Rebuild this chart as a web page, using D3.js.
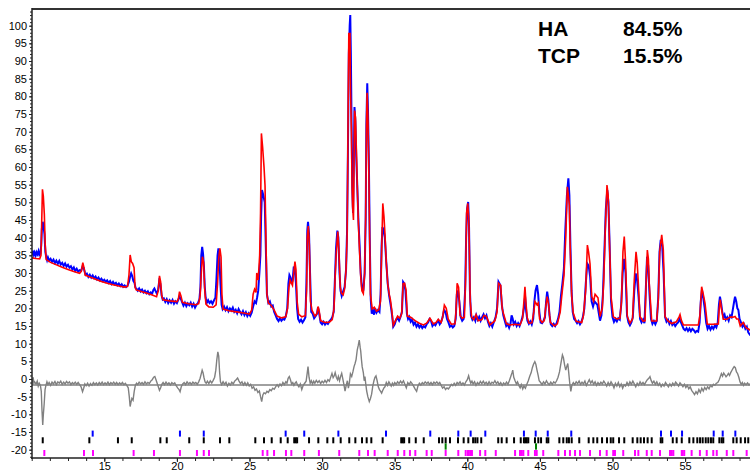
<!DOCTYPE html>
<html>
<head>
    <script src="https://cdn.jsdelivr.net/npm/d3@7/dist/d3.min.js"></script>
    <style>
        body { margin: 0; background: #fff; }
        text { font-family: "Liberation Sans", Arial, sans-serif; }
    </style>
</head>
<body>
    <svg width="750" height="472" id="mainsvg"></svg>
    <script>
        // observed pattern [2theta, intensity]
        const obs = [[10.0,35.6],[10.05,35.0],[10.1,36.3],[10.15,35.2],[10.2,35.8],[10.27,34.9],[10.33,35.9],[10.4,35.3],[10.47,36.2],[10.53,35.1],[10.6,35.5],[10.66,38],[10.7,42.5],[10.76,44.5],[10.82,43],[10.88,41],[10.94,36],[11.0,34.5],[11.06,33.6],[11.12,34.4],[11.2,33.5],[11.3,34.0],[11.4,33.2],[11.5,33.8],[11.6,32.8],[11.7,33.5],[11.8,32.6],[11.9,33.4],[12.0,32.4],[12.1,32.9],[12.2,32.0],[12.3,32.7],[12.4,31.8],[12.5,32.3],[12.6,31.5],[12.7,31.9],[12.8,31.0],[12.9,31.6],[13.0,30.6],[13.1,31.2],[13.2,30.4],[13.3,30.8],[13.4,30.6],[13.5,31.8],[13.58,31.5],[13.66,30.2],[13.72,29.5],[13.8,29.8],[13.9,28.9],[14.0,29.5],[14.1,28.7],[14.2,29.3],[14.3,28.5],[14.4,29.0],[14.5,28.2],[14.6,28.7],[14.7,27.9],[14.8,28.4],[14.9,27.7],[15.0,28.1],[15.1,27.5],[15.2,27.9],[15.3,27.2],[15.4,27.7],[15.5,26.9],[15.6,27.5],[15.7,26.8],[15.8,27.2],[15.9,26.5],[16.0,27.0],[16.1,26.3],[16.2,26.8],[16.3,26.1],[16.4,26.5],[16.5,26.0],[16.6,26.4],[16.7,27.5],[16.78,29],[16.85,29.9],[16.92,29.2],[17.0,27.8],[17.08,27.2],[17.15,25.8],[17.22,25.5],[17.3,25.0],[17.4,25.6],[17.5,24.8],[17.6,25.3],[17.7,24.5],[17.8,25.0],[17.9,24.3],[18.0,24.8],[18.1,24.0],[18.2,24.5],[18.3,24.2],[18.38,25.2],[18.45,25.6],[18.52,25.0],[18.6,24.3],[18.7,25],[18.78,27.7],[18.86,27],[18.95,23.6],[19.02,22.5],[19.1,22.8],[19.2,21.8],[19.3,22.6],[19.4,21.5],[19.5,22.3],[19.6,21.6],[19.7,22.4],[19.8,21.3],[19.9,22.0],[20.0,21.5],[20.1,22.5],[20.18,23.3],[20.26,22.8],[20.35,21.8],[20.45,20.8],[20.55,21.6],[20.65,20.6],[20.75,21.4],[20.85,20.9],[20.95,21.6],[21.05,20.5],[21.15,21.3],[21.25,20.2],[21.35,21.0],[21.45,21.5],[21.55,22.5],[21.62,26],[21.68,35],[21.74,37.4],[21.8,35.5],[21.86,32],[21.92,26],[21.98,23],[22.05,21.5],[22.15,22.3],[22.25,21.5],[22.35,22.0],[22.45,21.3],[22.55,22.2],[22.65,23],[22.72,28],[22.8,35],[22.86,37],[22.93,34],[23.0,27],[23.08,21],[23.15,19.8],[23.25,20.5],[23.35,19.5],[23.45,20.3],[23.55,19.2],[23.65,20.0],[23.75,19.4],[23.85,20.2],[23.95,19.0],[24.05,19.6],[24.15,18.6],[24.25,19.8],[24.35,19.0],[24.45,18.3],[24.55,19.2],[24.65,18.1],[24.75,18.9],[24.85,17.8],[24.95,18.6],[25.05,17.9],[25.15,18.8],[25.25,20.5],[25.35,22],[25.45,21.5],[25.52,23],[25.6,25],[25.68,30],[25.75,35],[25.8,46],[25.86,53.5],[25.95,52],[26.05,50],[26.12,38],[26.2,24],[26.3,21.5],[26.4,22],[26.5,20.5],[26.6,20.8],[26.7,19.0],[26.8,18.0],[26.9,17.0],[27.0,16.4],[27.1,17.2],[27.2,16.5],[27.3,17.0],[27.4,16.8],[27.5,17.8],[27.6,20],[27.68,27],[27.75,29.4],[27.82,28.8],[27.9,27],[27.97,28],[28.05,31.8],[28.12,31],[28.2,27],[28.28,20],[28.35,17],[28.45,16.2],[28.55,16.8],[28.65,16.0],[28.75,16.6],[28.85,17.5],[28.92,27],[28.98,42],[29.03,44.5],[29.1,41],[29.17,30],[29.25,19],[29.35,18.5],[29.45,17.2],[29.55,17.8],[29.65,18.5],[29.72,20.3],[29.8,18.5],[29.9,16.0],[30.0,15.5],[30.1,16.2],[30.2,15.4],[30.3,16.0],[30.4,15.6],[30.5,16.3],[30.6,16.8],[30.7,17.5],[30.8,19],[30.88,28],[30.96,37],[31.05,42],[31.12,40],[31.2,30],[31.27,25],[31.35,23.5],[31.45,24.8],[31.55,26],[31.65,31],[31.72,42],[31.78,65],[31.84,92],[31.9,100],[31.94,103],[31.98,92],[32.03,72],[32.08,54],[32.13,47],[32.18,60],[32.23,77],[32.29,73],[32.35,63],[32.42,55],[32.5,45],[32.58,38],[32.66,30],[32.74,26],[32.84,25],[32.93,30],[33.0,45],[33.05,72],[33.11,83.7],[33.16,76],[33.22,62],[33.28,40],[33.35,22.5],[33.42,18.5],[33.5,19.5],[33.58,18.2],[33.65,20],[33.75,18.8],[33.85,19.5],[33.95,19.0],[34.03,24],[34.1,38],[34.16,43],[34.24,42],[34.32,40],[34.42,33],[34.52,27],[34.62,23.5],[34.72,21],[34.82,18],[34.9,14.8],[35.0,15.5],[35.1,16.8],[35.2,17.2],[35.3,16.5],[35.4,17.6],[35.5,19],[35.58,27.5],[35.66,27],[35.74,25],[35.84,18.5],[35.92,17],[36.0,17.6],[36.1,16.2],[36.2,16.8],[36.3,15.4],[36.4,16.0],[36.5,14.8],[36.6,15.5],[36.7,14.6],[36.8,15.2],[36.9,14.4],[37.0,15.0],[37.1,14.6],[37.2,15.5],[37.3,16],[37.4,17],[37.5,16.5],[37.6,15.0],[37.7,15.6],[37.8,15.2],[37.9,16.0],[38.0,16.6],[38.1,15.5],[38.2,16.2],[38.3,17.5],[38.4,19.5],[38.5,19],[38.6,17],[38.7,16.0],[38.8,14.8],[38.9,15.2],[39.0,14.6],[39.1,15.0],[39.2,17],[39.28,24],[39.36,25],[39.45,22],[39.55,17.5],[39.65,16.5],[39.75,17.0],[39.85,25],[39.92,40],[39.98,48],[40.06,50.1],[40.12,43],[40.18,25],[40.25,18],[40.35,16.8],[40.45,17.5],[40.55,16.5],[40.62,18.0],[40.72,16.8],[40.82,17.6],[40.92,16.5],[41.02,17.5],[41.12,18.3],[41.22,17.2],[41.32,18],[41.42,16.2],[41.52,15.0],[41.62,15.8],[41.72,14.8],[41.82,16],[41.95,17.5],[42.05,20],[42.15,27.5],[42.28,26.5],[42.38,21],[42.48,18],[42.58,16.5],[42.68,15.0],[42.78,15.6],[42.88,14.5],[42.98,15.8],[43.05,18],[43.12,17.2],[43.2,15.5],[43.3,16.2],[43.4,15.0],[43.5,15.8],[43.6,15.0],[43.7,16.2],[43.8,17.5],[43.9,20],[43.98,23.3],[44.06,19],[44.14,16.5],[44.24,15.6],[44.34,16.3],[44.44,15.4],[44.54,17],[44.62,22],[44.7,25],[44.8,26.6],[44.88,24],[44.96,19],[45.05,16],[45.15,15.8],[45.25,16.5],[45.35,17.5],[45.43,22],[45.5,24.7],[45.58,22.5],[45.66,18],[45.75,15.5],[45.85,15.0],[45.95,15.6],[46.05,15.0],[46.15,15.8],[46.25,17],[46.35,19],[46.45,23.5],[46.55,27],[46.65,31],[46.75,42],[46.86,52],[46.96,56.8],[47.03,52],[47.1,38],[47.18,25],[47.26,19],[47.36,17],[47.46,16.5],[47.56,15.8],[47.66,16.4],[47.76,15.5],[47.86,16.2],[47.96,17.5],[48.06,20],[48.16,27],[48.26,32.7],[48.36,32],[48.46,29],[48.56,22],[48.66,20.5],[48.76,22],[48.86,21.5],[48.96,21],[49.06,18.5],[49.14,16.5],[49.24,18],[49.34,24],[49.44,36],[49.54,48],[49.64,53.5],[49.72,50],[49.8,38],[49.9,22],[50.0,17.5],[50.1,16.2],[50.2,17],[50.3,16.3],[50.4,17.2],[50.5,16.8],[50.6,21],[50.7,30],[50.8,34],[50.9,30],[51.0,18],[51.1,16],[51.2,15.2],[51.3,16],[51.4,17.5],[51.5,25],[51.6,29.9],[51.7,28],[51.8,23],[51.9,17],[52.0,16],[52.1,16.8],[52.2,15.8],[52.3,26],[52.38,34.6],[52.46,32],[52.55,24],[52.65,17],[52.75,15.6],[52.85,16.4],[52.95,15.5],[53.05,16.5],[53.15,23],[53.24,36],[53.32,39.4],[53.42,38],[53.52,30],[53.62,17.5],[53.72,16.2],[53.82,16.8],[53.92,15.6],[54.02,16.4],[54.12,15.3],[54.22,15.8],[54.32,15.0],[54.42,15.6],[54.52,16],[54.62,17],[54.7,16.2],[54.8,15.2],[54.9,14.2],[55.0,13.8],[55.1,14.4],[55.2,13.6],[55.3,14.3],[55.4,13.5],[55.5,14.2],[55.6,13.8],[55.7,13.2],[55.8,13.6],[55.9,13.4],[56.0,16],[56.08,22],[56.16,25.2],[56.25,23],[56.35,20],[56.45,16],[56.55,14.2],[56.65,15],[56.75,14.0],[56.85,14.8],[56.95,14.2],[57.05,15.2],[57.15,14.6],[57.25,16],[57.33,21],[57.4,23.3],[57.48,21.5],[57.56,19],[57.64,17.5],[57.72,18.2],[57.8,16.8],[57.9,17.5],[58.0,16.5],[58.1,18],[58.2,17.5],[58.3,20],[58.38,22],[58.44,23.3],[58.52,22],[58.6,20],[58.67,19.5],[58.75,17],[58.85,16],[58.95,14.8],[59.05,15.5],[59.15,14.2],[59.25,14.8],[59.35,13.2],[59.5,12.3]];

        // calculated pattern [2theta, intensity]
        const calc = [[10.0,34.3],[10.3,34.1],[10.55,34.0],[10.64,35],[10.69,44.5],[10.74,53.7],[10.8,51.8],[10.87,46.6],[10.93,38],[11.0,33.8],[11.3,33.0],[11.7,32.3],[12.1,31.6],[12.5,31.0],[12.9,30.4],[13.3,29.9],[13.42,30.5],[13.52,32.9],[13.6,31.5],[13.68,29.4],[14.0,28.9],[14.4,28.2],[14.8,27.6],[15.2,27.1],[15.6,26.7],[16.0,26.3],[16.4,26.0],[16.6,26.2],[16.7,29.5],[16.78,35.1],[16.86,33.2],[16.95,32.7],[17.05,31.5],[17.12,26],[17.2,25.2],[17.6,24.7],[18.0,24.2],[18.3,23.8],[18.6,23.3],[18.72,25],[18.8,29.2],[18.88,27.5],[18.96,23.5],[19.05,22.4],[19.5,22.1],[20.0,21.9],[20.1,22.6],[20.18,24.7],[20.28,23.5],[20.38,21.7],[20.8,21.3],[21.3,21.0],[21.5,21.3],[21.6,23.5],[21.68,30],[21.76,34.6],[21.84,33],[21.92,25],[22.0,21.2],[22.2,20.4],[22.5,20.3],[22.7,21],[22.8,27],[22.88,34],[22.96,37],[23.04,34.5],[23.1,24],[23.18,19.8],[23.6,19.3],[24.1,19.0],[24.6,18.7],[25.0,18.4],[25.15,19.5],[25.25,24],[25.35,25.4],[25.45,24.5],[25.5,30],[25.6,28],[25.7,35],[25.76,47],[25.82,69.5],[25.9,65.8],[26.0,60],[26.07,54.7],[26.13,40],[26.2,24],[26.3,21.5],[26.5,20.8],[26.7,19.5],[26.9,17.8],[27.2,17.3],[27.5,17.6],[27.62,20],[27.72,26],[27.8,28],[27.88,27.2],[27.96,26.5],[28.05,30],[28.13,33.2],[28.2,31],[28.28,22],[28.38,18.4],[28.6,17.6],[28.85,17.9],[28.93,25],[28.98,40],[29.05,43.3],[29.12,38],[29.2,22],[29.3,19.5],[29.5,17.8],[29.65,18.5],[29.72,20.5],[29.8,19.2],[29.9,16.5],[30.2,16.0],[30.5,16.1],[30.7,16.8],[30.82,20],[30.9,29],[30.98,36],[31.08,41.7],[31.16,36],[31.25,26],[31.33,24.3],[31.45,23.8],[31.55,25.5],[31.65,31],[31.72,40],[31.76,57],[31.8,80],[31.84,97.8],[31.92,97.8],[31.96,81.3],[32.02,70],[32.06,55],[32.1,48.8],[32.16,45],[32.2,62],[32.24,76],[32.3,74],[32.36,65],[32.42,55],[32.5,44],[32.58,36],[32.66,29],[32.74,25],[32.84,24.2],[32.93,30],[33.0,46],[33.05,70],[33.1,81],[33.15,75],[33.2,64],[33.26,45],[33.33,24],[33.45,19.8],[33.6,20.3],[33.75,19.2],[33.9,19.6],[34.02,22],[34.1,36],[34.18,49.7],[34.26,46],[34.33,41],[34.42,33],[34.52,27],[34.62,24],[34.7,22.5],[34.8,19.5],[34.9,15.2],[35.05,16.5],[35.2,17.8],[35.35,17.2],[35.48,18.5],[35.58,27],[35.68,27.1],[35.78,25.2],[35.87,17.8],[36.1,17.5],[36.4,16.5],[36.7,15.8],[36.97,15.3],[37.2,15.8],[37.43,17.2],[37.66,15.6],[37.85,16],[38.0,16.9],[38.2,16.0],[38.3,17.5],[38.42,20.9],[38.55,20],[38.69,16.9],[38.9,15.5],[39.15,15.6],[39.22,19],[39.3,27.1],[39.4,26],[39.5,18],[39.65,17.2],[39.8,17.5],[39.88,28],[39.95,46.9],[40.03,49.7],[40.09,46],[40.13,40],[40.2,22],[40.3,17.5],[40.45,16.8],[40.6,18.2],[40.75,16.5],[41.0,16.8],[41.15,18],[41.3,17.8],[41.56,15.3],[41.9,16.5],[42.05,19],[42.15,27.1],[42.3,26.5],[42.4,20],[42.5,18.4],[42.7,15.6],[42.94,15.3],[43.3,15.5],[43.63,15.3],[43.8,17],[43.9,22],[43.97,26.1],[44.05,21],[44.12,17.5],[44.25,15.8],[44.45,15.9],[44.58,19],[44.66,21.9],[44.8,21],[44.89,21.5],[44.98,17],[45.15,16],[45.3,16.5],[45.42,21],[45.5,23.3],[45.6,21],[45.72,16],[46.0,15.0],[46.2,15.6],[46.4,19],[46.5,23.3],[46.66,29.4],[46.78,40],[46.89,54.4],[46.96,52],[47.03,49.1],[47.07,39.6],[47.19,23.3],[47.3,18.6],[47.5,16.3],[47.88,16.0],[48.0,18],[48.15,25],[48.27,37.9],[48.35,36],[48.45,32.7],[48.57,23.3],[48.7,22],[48.8,24],[48.9,23.5],[49.0,23],[49.14,17.7],[49.3,20],[49.4,28],[49.5,42],[49.62,54.9],[49.7,52],[49.78,40.5],[49.9,23.3],[50.06,17.6],[50.3,17],[50.51,17.2],[50.62,22],[50.72,36],[50.81,40.3],[50.9,33],[51.02,17.7],[51.2,15.8],[51.38,17],[51.5,28],[51.62,36],[51.7,33],[51.78,27],[51.89,17.7],[52.1,16.4],[52.24,16.5],[52.32,28],[52.4,36.5],[52.47,34],[52.53,27],[52.7,16.4],[53.04,16.4],[53.15,22],[53.25,36],[53.39,40.8],[53.5,36.5],[53.62,17.7],[53.8,16.5],[54.08,15.7],[54.4,16.2],[54.58,17.5],[54.65,18.2],[54.75,16.5],[54.88,15.3],[55.3,15.3],[55.91,15.3],[56.02,18],[56.14,26.1],[56.25,24],[56.37,21.5],[56.53,15.5],[56.9,15.5],[57.29,15.6],[57.35,20],[57.42,22.5],[57.5,20],[57.63,16.9],[57.87,16.9],[58.1,17.5],[58.3,17.5],[58.44,17.7],[58.55,17],[58.67,17],[58.8,15],[59.0,16],[59.2,14.5],[59.5,13.8]];

        // difference curve (already offset) and its zero line
        const diffZero = -1.7;
        const diff = [[10.0,-1.5],[10.05,-0.5],[10.1,0.5],[10.15,-1.2],[10.2,-0.8],[10.3,-1.4],[10.38,-0.6],[10.45,-2],[10.52,-1.2],[10.6,-1.8],[10.66,-3.5],[10.71,-9],[10.76,-13],[10.8,-10.2],[10.86,-7],[10.92,-3],[10.98,-1.8],[11.05,-0.8],[11.12,-1.6],[11.2,-1.0],[11.3,-1.8],[11.4,-0.9],[11.5,-1.4],[11.6,-0.7],[11.7,-1.6],[11.8,-0.8],[11.9,-1.2],[12.0,-0.6],[12.1,-1.5],[12.2,-0.9],[12.3,-1.4],[12.4,-0.7],[12.5,-1.2],[12.6,-0.8],[12.7,-1.6],[12.8,-1.0],[12.9,-1.4],[13.0,-0.9],[13.1,-1.5],[13.2,-1.0],[13.3,-1.6],[13.4,-2.2],[13.5,-3.6],[13.58,-2.6],[13.66,-1.4],[13.75,-1.9],[13.85,-1.2],[13.95,-2.0],[14.05,-1.3],[14.15,-1.8],[14.25,-1.0],[14.35,-1.6],[14.45,-1.1],[14.55,-1.7],[14.65,-1.0],[14.75,-1.5],[14.85,-0.9],[14.95,-1.6],[15.05,-1.1],[15.15,-1.5],[15.25,-0.9],[15.35,-1.6],[15.45,-1.0],[15.55,-1.4],[15.65,-0.9],[15.75,-1.5],[15.85,-1.0],[15.95,-1.6],[16.05,-1.1],[16.15,-1.5],[16.25,-1.0],[16.35,-1.6],[16.45,-1.2],[16.55,-1.8],[16.65,-2.5],[16.72,-5],[16.78,-7.8],[16.84,-6.5],[16.9,-5.5],[16.98,-6],[17.06,-3.5],[17.14,-1.8],[17.22,-1.2],[17.3,-1.6],[17.4,-0.9],[17.5,-1.4],[17.6,-1.0],[17.7,-1.5],[17.8,-0.8],[17.9,-1.4],[18.0,-1.0],[18.1,-1.3],[18.2,-0.6],[18.3,-0.2],[18.4,0.5],[18.48,0.7],[18.56,-0.2],[18.64,-1.2],[18.72,-2.2],[18.8,-3.2],[18.88,-2.5],[18.96,-1.5],[19.05,-1.0],[19.15,-1.6],[19.25,-0.9],[19.35,-1.5],[19.45,-1.1],[19.55,-1.7],[19.65,-1.0],[19.75,-1.4],[19.85,-1.1],[19.95,-1.9],[20.05,-2.5],[20.15,-3.0],[20.22,-3.6],[20.3,-2.2],[20.4,-1.4],[20.5,-1.0],[20.6,-1.6],[20.7,-0.8],[20.8,-1.4],[20.9,-1.0],[21.0,-1.5],[21.1,-0.9],[21.2,-1.3],[21.3,-1.0],[21.4,-1.5],[21.5,-0.8],[21.6,0.2],[21.68,1.5],[21.74,2.5],[21.8,1.8],[21.86,0.5],[21.94,-0.8],[22.02,-1.2],[22.1,-0.6],[22.2,-1.3],[22.3,-0.5],[22.4,-1.1],[22.5,-0.4],[22.6,0.5],[22.68,2.5],[22.75,5.5],[22.82,7.7],[22.88,6.5],[22.94,2],[23.0,-0.8],[23.08,-1.6],[23.18,-0.8],[23.28,-1.5],[23.38,-0.9],[23.48,-2.0],[23.58,-1.2],[23.68,-1.7],[23.78,-0.9],[23.88,-1.4],[23.98,-0.6],[24.08,-0.2],[24.18,0.3],[24.28,-0.6],[24.38,-1.3],[24.48,-0.8],[24.58,-1.7],[24.68,-1.0],[24.78,-1.8],[24.88,-1.1],[24.98,-2.0],[25.08,-1.5],[25.18,-2.6],[25.28,-2.2],[25.38,-3.2],[25.48,-2.8],[25.58,-3.8],[25.68,-3.4],[25.76,-5],[25.84,-6.4],[25.92,-4.5],[26.0,-3.9],[26.1,-4.2],[26.2,-3.5],[26.3,-3.8],[26.4,-3.0],[26.5,-3.3],[26.6,-2.6],[26.7,-2.9],[26.8,-2.2],[26.9,-1.6],[27.0,-2.2],[27.1,-1.4],[27.2,-1.9],[27.3,-1.0],[27.4,-1.6],[27.5,-0.8],[27.58,-1.2],[27.66,0.2],[27.74,0.7],[27.82,-0.2],[27.9,-1.4],[27.98,-1.0],[28.06,-1.8],[28.14,-1.2],[28.22,-0.8],[28.3,-1.6],[28.4,-2.2],[28.5,-1.4],[28.6,-3.0],[28.7,-1.8],[28.8,-1.2],[28.9,-0.6],[28.97,1.5],[29.03,3.5],[29.1,0.5],[29.18,-1.2],[29.26,-0.5],[29.34,-1.4],[29.42,-0.6],[29.5,-1.2],[29.6,-0.4],[29.7,-1.0],[29.8,-0.5],[29.9,-1.3],[30.0,-0.6],[30.1,-1.1],[30.2,-0.4],[30.3,-1.0],[30.4,-0.2],[30.5,-0.6],[30.6,0.6],[30.68,1.6],[30.76,0.4],[30.84,1.0],[30.9,1.8],[30.98,0.5],[31.06,-0.2],[31.12,0.7],[31.2,-0.5],[31.28,0.8],[31.35,1.6],[31.42,0.2],[31.5,-1.5],[31.58,-3.4],[31.66,-1.8],[31.74,-0.5],[31.81,-2.6],[31.88,-1.0],[31.95,1.5],[32.04,0.7],[32.12,2.0],[32.2,3.5],[32.27,4.4],[32.34,5.5],[32.42,8.2],[32.49,9.5],[32.56,11],[32.62,9],[32.66,7.9],[32.71,5.5],[32.76,3.5],[32.84,1.8],[32.9,-0.5],[32.95,0.7],[33.01,-1.5],[33.07,-3.4],[33.15,-5],[33.25,-6.4],[33.33,-5.5],[33.41,-4.3],[33.49,-2.0],[33.57,-0.5],[33.64,0.5],[33.71,0.9],[33.79,-0.5],[33.87,-2.2],[33.95,-3.0],[34.03,-3.5],[34.1,-4],[34.18,-3.2],[34.26,-2.5],[34.33,-2.2],[34.42,-1.0],[34.5,-1.8],[34.6,-0.8],[34.68,-1.4],[34.76,-2.0],[34.84,-1.2],[34.92,-1.8],[35.0,-1.0],[35.1,-1.5],[35.2,-0.8],[35.3,-1.3],[35.4,-0.6],[35.5,-1.2],[35.6,-0.5],[35.7,-1.5],[35.8,-2.5],[35.9,-1.0],[36.0,-1.6],[36.1,-0.8],[36.2,-1.3],[36.3,-2.0],[36.4,-2.8],[36.51,-3.5],[36.6,-2.0],[36.7,-1.2],[36.8,-1.7],[36.9,-1.0],[37.0,-1.4],[37.1,-0.8],[37.2,-1.3],[37.3,-0.9],[37.4,-1.5],[37.5,-1.0],[37.6,-1.6],[37.7,-0.9],[37.8,-1.3],[37.9,-0.8],[38.0,-1.4],[38.1,-1.0],[38.2,-1.8],[38.3,-2.6],[38.4,-2.2],[38.5,-3.0],[38.6,-2.5],[38.7,-2.8],[38.8,-2.2],[38.9,-1.5],[39.0,-1.9],[39.1,-1.2],[39.2,-1.8],[39.3,-1.0],[39.4,-1.4],[39.5,-0.8],[39.6,-1.6],[39.7,-1.1],[39.8,-1.7],[39.9,-0.8],[40.0,-0.2],[40.09,0.9],[40.16,-0.2],[40.24,-1.2],[40.32,-0.6],[40.4,-1.4],[40.5,-0.8],[40.6,-1.8],[40.7,-1.0],[40.8,-1.5],[40.9,-0.7],[41.0,-1.3],[41.1,-0.6],[41.2,-1.4],[41.3,-0.9],[41.4,-1.6],[41.5,-0.8],[41.6,-1.5],[41.7,-0.9],[41.8,-1.2],[41.9,-0.5],[42.0,-1.3],[42.1,-0.8],[42.2,-1.6],[42.3,-1.0],[42.4,-1.8],[42.5,-1.1],[42.6,-1.6],[42.7,-0.9],[42.8,-1.5],[42.9,-0.4],[43.0,0.8],[43.08,1.8],[43.13,2.5],[43.2,0.5],[43.29,-0.5],[43.38,-1.4],[43.46,-0.8],[43.55,-1.8],[43.64,-2.5],[43.72,-1.6],[43.82,-2.8],[43.9,-2.0],[44.0,-2.6],[44.1,-1.5],[44.2,-0.5],[44.3,0.8],[44.4,1.8],[44.48,3.2],[44.56,4.2],[44.65,4.9],[44.72,4.2],[44.8,2.5],[44.88,1.0],[44.95,-0.5],[45.05,-1.0],[45.15,-1.6],[45.25,-0.8],[45.35,-1.4],[45.45,-0.5],[45.55,-1.2],[45.65,-1.6],[45.75,-0.9],[45.85,-1.5],[45.95,-0.8],[46.05,-1.2],[46.15,-0.5],[46.25,0.5],[46.35,2.0],[46.45,4.5],[46.55,6.8],[46.62,6.0],[46.7,4.0],[46.78,2.5],[46.85,3.5],[46.92,4.4],[46.98,2.0],[47.05,-1.0],[47.13,-3.5],[47.2,-1.8],[47.3,-1.0],[47.4,-1.6],[47.5,-0.8],[47.6,-1.3],[47.7,-0.6],[47.8,-1.5],[47.9,-0.9],[48.0,-1.4],[48.1,-0.6],[48.2,-1.8],[48.3,-1.0],[48.4,-0.2],[48.5,-1.2],[48.6,-0.5],[48.7,-1.5],[48.8,-0.8],[48.9,-1.8],[49.0,-1.0],[49.1,-1.6],[49.2,-0.9],[49.3,-1.4],[49.4,-0.6],[49.5,-1.2],[49.6,-2.0],[49.7,-1.0],[49.8,-1.8],[49.9,-0.8],[50.0,-1.5],[50.1,-2.5],[50.2,-1.2],[50.3,-2.0],[50.4,-1.0],[50.5,-2.2],[50.6,-1.4],[50.7,-2.6],[50.8,-1.6],[50.9,-2.0],[51.0,-1.0],[51.1,-1.8],[51.2,-0.8],[51.3,-1.5],[51.4,-0.6],[51.5,-1.4],[51.6,-2.2],[51.7,-1.2],[51.8,-1.8],[51.9,-0.8],[52.0,-1.5],[52.1,-1.0],[52.2,-1.6],[52.3,-0.8],[52.4,-0.2],[52.5,0.2],[52.58,0.7],[52.66,-0.4],[52.75,-1.2],[52.85,-0.6],[52.95,-1.5],[53.05,-0.8],[53.15,-1.8],[53.25,-1.2],[53.35,-2.2],[53.45,-1.5],[53.55,-2.0],[53.65,-1.0],[53.75,-1.6],[53.85,-2.2],[53.95,-1.4],[54.05,-2.0],[54.15,-1.2],[54.25,-1.8],[54.35,-0.9],[54.45,-1.4],[54.55,-2.0],[54.65,-1.1],[54.75,-1.6],[54.85,-2.2],[54.95,-1.5],[55.05,-2.4],[55.15,-1.8],[55.25,-2.8],[55.35,-2.2],[55.45,-3.2],[55.55,-3.8],[55.65,-4.4],[55.75,-3.6],[55.85,-4.2],[55.95,-3.0],[56.05,-3.8],[56.15,-2.6],[56.25,-3.4],[56.35,-2.4],[56.45,-3.0],[56.55,-2.2],[56.65,-2.8],[56.75,-1.8],[56.85,-2.2],[56.95,-1.5],[57.05,-1.8],[57.15,-1.2],[57.25,-1.0],[57.35,-0.2],[57.43,0.7],[57.5,1.5],[57.58,0.8],[57.66,1.7],[57.74,1.2],[57.82,0.6],[57.9,1.0],[57.98,1.6],[58.06,1.0],[58.14,1.8],[58.22,2.4],[58.3,3.0],[58.38,3.5],[58.46,3.2],[58.54,2.0],[58.62,1.5],[58.7,0.5],[58.78,-0.8],[58.86,-1.5],[58.94,-1.0],[59.02,-1.8],[59.1,-1.2],[59.2,-1.6],[59.3,-1.1],[59.4,-1.7],[59.5,-1.3]];

        // reflection markers (2theta) for each row
        const blueTicks = [14.2,20.21,21.85,27.49,28.77,31.12,34.4,37.45,39.38,40.23,41.24,43.9,44.71,45.54,47.16,53.34,54.03,54.79,56.97,57.59,58.46];
        const blackTicks = [10.76,13.97,15.94,16.89,18.86,19.3,20.85,21.85,22.97,23.61,25.4,26.0,26.53,27.15,27.63,28.08,28.18,28.28,29.1,29.74,30.36,30.77,31.28,31.87,32.29,32.75,33.07,33.39,34.17,35.45,35.55,35.65,36.0,36.45,37.0,38.05,38.28,38.51,38.81,39.36,39.75,40.07,40.4,40.55,40.7,40.96,42.13,42.37,42.71,43.22,43.68,43.9,44.0,44.09,44.2,44.66,44.89,45.08,45.47,45.58,46.34,46.61,46.85,47.0,47.19,47.71,48.36,48.68,48.95,49.28,49.62,49.88,50.05,50.45,50.81,51.39,51.71,51.94,52.17,52.42,52.7,53.32,53.43,54.15,54.42,54.77,55.29,55.57,55.84,56.03,56.21,56.42,56.6,56.78,56.94,57.36,57.52,57.63,58.32,58.55,58.83,59.13,59.35];
        const magentaTicks = [10.87,13.6,14.22,17.02,18.42,20.21,21.38,21.85,22.21,25.91,26.23,26.69,27.51,27.88,28.77,29.78,31.18,32.56,33.16,33.62,34.52,35.21,35.66,36.05,36.42,37.2,37.55,38.51,39.38,39.89,40.05,40.19,40.32,40.88,41.24,41.96,43.29,43.63,43.75,43.86,44.2,44.66,44.78,45.23,46.27,46.73,47.07,47.42,47.76,48.45,49.14,49.6,50.05,50.17,50.74,51.55,51.78,52.36,52.7,53.27,53.96,54.08,54.19,54.77,54.83,54.94,55.45,56.02,56.49,56.94,57.18,57.87,58.32,59.24];
        const greenTicks = [38.51, 44.73];

        const phaseNames = ['HA', 'TCP'];
        const phasePct = ['84.5%', '15.5%'];

        const yMajor = d3.range(-20, 101, 5);
        const xMajor = d3.range(15, 56, 5);

        const svg = d3.select('svg');
        const width = +svg.attr('width');
        const height = +svg.attr('height');

        const x = d3.scaleLinear().domain([10, 60]).range([31.7, 31.7 + 50 * 14.52]);
        const y = d3.scaleLinear().domain([-22.36, 104.72]).range([458, 9]);

        const line = d3.line().x(d => x(d[0])).y(d => y(d[1]));

        svg.append('clipPath').attr('id', 'clip')
            .append('rect').attr('x', 32).attr('y', 9).attr('width', width - 32).attr('height', 449);
        const plot = svg.append('g').attr('clip-path', 'url(#clip)');

        // difference zero line and curve
        plot.append('line')
            .attr('x1', x(10)).attr('x2', width)
            .attr('y1', y(diffZero)).attr('y2', y(diffZero))
            .attr('stroke', '#808080').attr('stroke-width', 1.5);
        plot.append('path').datum(diff)
            .attr('fill', 'none').attr('stroke', '#808080').attr('stroke-width', 1.4)
            .attr('d', line);

        // observed and calculated
        plot.append('path').datum(obs)
            .attr('fill', 'none').attr('stroke', '#0000ff').attr('stroke-width', 2)
            .attr('d', line);
        plot.append('path').datum(calc)
            .attr('fill', 'none').attr('stroke', '#ff0000').attr('stroke-width', 1.6)
            .attr('d', line);

        // reflection markers
        const rows = [
            { ticks: blueTicks, color: '#0000ff', top: -14.6, bottom: -16.3 },
            { ticks: blackTicks, color: '#000000', top: -16.5, bottom: -18.2 },
            { ticks: greenTicks, color: '#008000', top: -18.2, bottom: -20.0 },
            { ticks: magentaTicks, color: '#ff00ff', top: -20.1, bottom: -21.8 }
        ];
        rows.forEach(r => {
            plot.append('g').selectAll('line').data(r.ticks).join('line')
                .attr('x1', d => x(d)).attr('x2', d => x(d))
                .attr('y1', y(r.top)).attr('y2', y(r.bottom))
                .attr('stroke', r.color).attr('stroke-width', 2);
        });

        // axes
        const axisColor = '#222';
        const gy = svg.append('g').attr('transform', 'translate(32,0)');
        gy.call(d3.axisLeft(y).tickValues(d3.range(-22, 105, 1)).tickSize(2).tickFormat(''));
        gy.call(g => g.selectAll('.domain').remove());
        const gyMaj = svg.append('g').attr('transform', 'translate(32,0)')
            .call(d3.axisLeft(y).tickValues(yMajor).tickSize(3).tickPadding(2).tickFormat(d => String(d)));
        gyMaj.select('.domain').remove();
        gyMaj.selectAll('text').attr('font-size', 11).attr('fill', '#000')
            .attr('font-family', '"Liberation Sans", Arial, sans-serif');

        const gx = svg.append('g').attr('transform', 'translate(0,458)');
        gx.call(d3.axisBottom(x).tickValues(d3.range(10, 60, 1.25)).tickSize(3).tickFormat(''));
        gx.select('.domain').remove();
        const gxMaj = svg.append('g').attr('transform', 'translate(0,458)')
            .call(d3.axisBottom(x).tickValues(xMajor).tickSize(4).tickPadding(0.6).tickFormat(d => String(d)));
        gxMaj.select('.domain').remove();
        gxMaj.selectAll('text').attr('font-size', 11).attr('fill', '#000')
            .attr('font-family', '"Liberation Sans", Arial, sans-serif');
        svg.selectAll('.tick line').attr('stroke', axisColor);

        // frame lines
        svg.append('line').attr('x1', 32).attr('x2', width).attr('y1', 9).attr('y2', 9)
            .attr('stroke', '#333').attr('stroke-width', 2);
        svg.append('line').attr('x1', 32).attr('x2', 32).attr('y1', 8).attr('y2', 459)
            .attr('stroke', axisColor).attr('stroke-width', 1.5);
        svg.append('line').attr('x1', 31).attr('x2', width).attr('y1', 458).attr('y2', 458)
            .attr('stroke', axisColor).attr('stroke-width', 1.5);

        // phase fractions
        const legend = svg.append('g').attr('font-weight', 'bold').attr('font-size', 21).attr('fill', '#000');
        legend.selectAll('.name').data(phaseNames).join('text').attr('class', 'name')
            .attr('x', 538).attr('y', (d, i) => 36 + i * 26.7).text(d => d);
        legend.selectAll('.pct').data(phasePct).join('text').attr('class', 'pct')
            .attr('x', 623).attr('y', (d, i) => 36 + i * 26.7).text(d => d);
    </script>
</body>
</html>
